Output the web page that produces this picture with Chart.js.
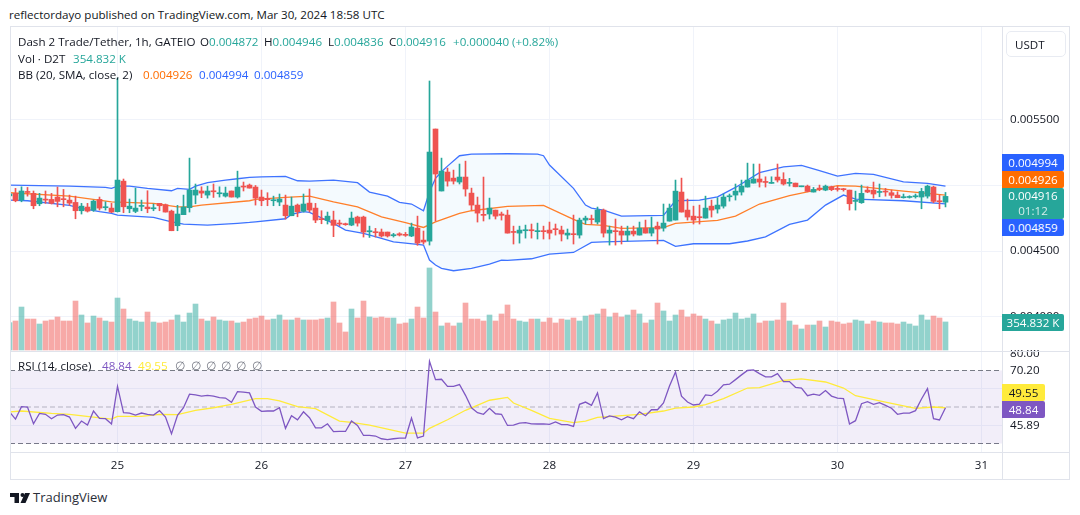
<!DOCTYPE html>
<html>
<head>
<meta charset="utf-8">
<title>Dash 2 Trade/Tether</title>
<script src="https://cdn.jsdelivr.net/npm/chart.js@4"></script>
<style>
  html, body { margin: 0; padding: 0; background: #fff; }
  body { width: 1080px; height: 515px; position: relative; overflow: hidden;
         font-family: "Open Sans", sans-serif; font-size: 11.6px; color: #131722; }
  canvas { position: absolute; left: 0; }
  .t { position: absolute; white-space: pre; line-height: 16px; }
  .line { position: absolute; background: #e0e3eb; }
  .tag { position: absolute; left: 1002px; width: 62px; height: 17px; line-height: 17px;
         color: #fff; text-align: center; border-radius: 0 2px 2px 0; }
  .g { color: #26a69a; } .o { color: #ff6d00; } .b { color: #2962ff; }
  .p { color: #7e57c2; } .y { color: #ffeb3b; } .m { color: #787b86; }
</style>
</head>
<body>
<canvas id="main" width="1069" height="325" style="top:26px"></canvas>
<canvas id="rsi" width="1069" height="129" style="top:350px"></canvas>

<div class="line" style="left:10px;top:26px;width:1059px;height:1px"></div>
<div class="line" style="left:10px;top:479px;width:1059px;height:1px"></div>
<div class="line" style="left:10px;top:26px;width:1px;height:454px"></div>
<div class="line" style="left:1069px;top:26px;width:1px;height:454px"></div>
<div class="line" style="left:1002px;top:26px;width:1px;height:454px"></div>
<div class="line" style="left:10px;top:351px;width:1059px;height:1px"></div>
<div class="line" style="left:10px;top:452px;width:1059px;height:1px"></div>

<div class="t" style="left:9px;top:7px">reflectordayo published on TradingView.com, Mar 30, 2024 18:58 UTC</div>

<div class="t" style="left:18px;top:34px">Dash 2 Trade/Tether, 1h, GATEIO</div>
<div class="t" style="left:200px;top:34px">O<span class="g">0.004872</span></div>
<div class="t" style="left:264px;top:34px">H<span class="g">0.004946</span></div>
<div class="t" style="left:328px;top:34px">L<span class="g">0.004836</span></div>
<div class="t" style="left:389px;top:34px">C<span class="g">0.004916</span></div>
<div class="t g" style="left:453px;top:34px">+0.000040 (+0.82%)</div>
<div class="t" style="left:18px;top:51px">Vol · D2T</div>
<div class="t g" style="left:73px;top:51px">354.832 K</div>
<div class="t" style="left:18px;top:67px">BB (20, SMA, close, 2)</div>
<div class="t o" style="left:143px;top:67px">0.004926</div>
<div class="t b" style="left:199px;top:67px">0.004994</div>
<div class="t b" style="left:254px;top:67px">0.004859</div>

<div class="t" style="left:18px;top:358px">RSI (14, close)</div>
<div class="t p" style="left:102px;top:358px">48.84</div>
<div class="t y" style="left:138px;top:358px">49.55</div>
<div class="t m" style="left:175px;top:358px">∅</div>
<div class="t m" style="left:191px;top:358px">∅</div>
<div class="t m" style="left:206px;top:358px">∅</div>
<div class="t m" style="left:221px;top:358px">∅</div>
<div class="t m" style="left:236px;top:358px">∅</div>
<div class="t m" style="left:252px;top:358px">∅</div>

<div style="position:absolute;left:1006px;top:31px;width:58px;height:24px;border:1px solid #e8ebf2;border-radius:5px"></div>
<div class="t" style="left:1015px;top:37px">USDT</div>

<div class="tag" style="top:154px;background:#2962ff">0.004994</div>
<div class="tag" style="top:171px;background:#ff6d00">0.004926</div>
<div class="tag" style="top:188px;height:31px;background:#26a69a;line-height:15px">0.004916<br><span style="opacity:.8">01:12</span></div>
<div class="tag" style="top:219px;background:#2962ff">0.004859</div>
<div class="tag" style="top:314px;background:#26a69a">354.832 K</div>
<div class="tag" style="top:384px;width:43px;background:#ffeb3b;color:#131722">49.55</div>
<div class="tag" style="top:401px;width:43px;background:#7e57c2">48.84</div>

<svg style="position:absolute;left:10px;top:493px" width="20" height="10" viewBox="0 0 20 10" fill="#131722">
  <path d="M0 0h9v10H4.5V4H0z"/><circle cx="12.5" cy="2" r="2"/><path d="M15 0h5l-4.5 10H10.5z"/>
</svg>
<div class="t" style="left:33px;top:489px;font-size:13px;color:#2a2e39">TradingView</div>

<script>
// prices are in 1e-6 USDT, one entry per hour starting Mar 24 06:00
const opens = [4920,4939,4888,4951,4939,4860,4893,4893,4911,4896,4888,4870,4807,4835,4812,4893,4830,4827,4800,5032,
  4822,4802,4840,4835,4822,4863,4853,4804,4693,4777,4830,4926,4957,4926,4957,4936,4918,4957,4911,4992,
  5002,4987,4911,4901,4883,4873,4850,4769,4850,4804,4865,4827,4744,4733,4736,4713,4708,4698,4759,4759,
  4647,4645,4645,4645,4617,4632,4627,4615,4675,4584,4576,5428,4957,5101,5055,5025,5063,4941,4850,4774,
  4782,4812,4782,4774,4645,4637,4655,4660,4648,4652,4660,4668,4660,4622,4630,4622,4736,4744,4721,4812,
  4637,4652,4652,4622,4652,4622,4675,4637,4690,4675,4728,4736,4949,4812,4766,4759,4751,4842,4820,4842,
  4913,4926,4949,4987,5017,5048,5027,5015,5063,5045,5015,5017,4989,4994,4949,4979,4964,4989,4974,4972,
  4964,4878,4868,4964,4964,4946,4954,4944,4926,4906,4908,4913,4911,4918,4987,4880,4872];
const highs = [4960,4977,4989,4984,4957,4939,4957,4939,4987,4969,4926,4918,4863,4863,4888,4911,4875,4863,5815,5048,
  4896,4979,4888,4959,4858,4863,4858,4812,4848,4926,5207,5010,4989,4994,5010,4989,4987,4957,5108,5025,
  5010,4999,4964,4944,4918,4934,4926,4911,4858,4934,4972,4863,4807,4797,4804,4736,4713,4797,4766,4766,
  4690,4673,4668,4645,4635,4640,4642,4713,4766,4653,5793,5428,5207,5131,5116,5162,5184,4979,4911,5063,
  4903,4812,4797,4812,4690,4690,4698,4706,4713,4690,4721,4706,4690,4668,4774,4751,4766,4774,4835,4820,
  4690,4744,4690,4690,4690,4721,4736,4759,4721,4858,4858,5040,5055,4896,4842,4850,4918,4888,4906,4934,
  4934,5010,5040,5169,5162,5162,5065,5065,5162,5096,5053,5017,4994,5002,4984,5002,5002,4994,4994,4977,
  4964,4956,5002,4989,5025,5010,4977,4964,4951,4934,4921,4934,4977,5002,4994,4928,4946];
const lows = [4895,4875,4875,4918,4822,4845,4863,4858,4837,4837,4848,4746,4782,4797,4802,4812,4812,4792,4797,4792,
  4792,4792,4807,4792,4807,4807,4797,4655,4655,4777,4797,4860,4906,4903,4908,4911,4911,4911,4903,4957,
  4979,4850,4845,4845,4845,4845,4744,4769,4761,4797,4797,4716,4708,4706,4610,4693,4696,4693,4690,4607,
  4604,4607,4607,4607,4607,4615,4612,4610,4544,4554,4546,4729,4957,4994,5010,5010,4918,4812,4721,4729,
  4744,4744,4736,4637,4554,4561,4599,4599,4592,4592,4592,4622,4577,4592,4554,4599,4706,4706,4706,4607,
  4546,4546,4554,4577,4615,4622,4637,4615,4554,4652,4728,4736,4797,4736,4706,4706,4751,4759,4789,4827,
  4880,4888,4926,4987,5017,4987,4987,5015,5025,5002,4994,4989,4989,4951,4949,4959,4959,4959,4956,4956,
  4812,4812,4863,4944,4903,4913,4918,4903,4906,4903,4903,4903,4822,4903,4868,4822,4836];
const closes = [4935,4883,4957,4946,4845,4903,4888,4863,4878,4891,4865,4807,4842,4804,4880,4827,4835,4797,5040,4837,
  4842,4827,4845,4822,4827,4845,4797,4655,4782,4835,4964,4964,4941,4957,4951,4941,4941,4911,4987,4987,
  4979,4903,4883,4891,4888,4896,4769,4842,4799,4858,4812,4736,4739,4766,4696,4706,4701,4751,4713,4645,
  4655,4640,4615,4615,4625,4622,4620,4683,4561,4569,5253,5086,5108,5032,5032,5063,4972,4850,4789,4772,
  4827,4766,4772,4637,4642,4660,4660,4655,4652,4648,4637,4663,4630,4637,4625,4736,4751,4739,4812,4637,
  4660,4648,4622,4652,4630,4675,4637,4675,4668,4713,4827,4956,4797,4759,4736,4754,4827,4812,4850,4911,
  4918,4956,4994,5040,5048,5025,5022,5020,5040,5010,5020,4989,4994,4954,4969,4969,4994,4967,4969,4967,
  4860,4883,4939,4949,4934,4951,4949,4924,4906,4911,4911,4918,4954,4994,4878,4875,4916];
// volume in thousands of D2T
const volumes = [346,367,544,392,392,329,367,380,418,367,367,620,443,342,430,405,367,354,658,519,
  392,367,354,481,354,342,354,380,443,354,468,582,392,367,418,380,367,367,342,354,
  392,405,430,380,392,443,380,380,405,380,380,380,392,405,608,342,228,519,405,620,
  418,405,418,405,405,329,342,392,544,405,1039,481,304,342,304,342,595,392,392,367,
  443,367,456,570,392,367,354,392,392,354,405,342,392,380,405,367,430,443,456,519,
  418,468,418,443,506,456,342,380,595,494,367,443,506,418,456,430,392,367,329,380,
  392,468,392,405,456,342,367,367,380,595,367,316,266,316,316,367,291,367,354,329,
  342,380,367,329,367,354,342,342,329,354,329,304,443,380,430,405,354.832];
const rsiValues = [47.3,43.4,50.2,50,40.8,46.5,46,43.6,45.6,45.8,44.5,38.3,42.3,40.1,47.8,43.8,43.6,40.7,61.3,46.9,
  46.7,45.6,46.7,46,45.6,48,44.5,35.3,45.4,49.6,57,56.6,56,56.4,56,55.1,54.9,52.6,58.4,58.2,
  57.7,50,47.6,47.8,47.8,49.6,38.3,45.2,43,47.4,44.1,38.6,38.6,40.8,36.5,36.6,36.6,42.3,39.9,34.4,
  34.4,34.1,32.6,32.1,32.6,33,33,44,33.1,34.1,75.1,65,65.2,61.3,61.3,62.3,56.4,49.6,46.9,46,
  49.3,46.3,46,39.9,40.1,41.2,41.4,40.8,40.7,40.8,40.5,41.8,40.3,40.3,39.4,51.5,52.7,50.9,57.7,43.6,
  45.1,44.5,43,44.7,43.6,47.3,45.2,48.5,48.5,52.2,61.5,69.2,55.9,52.7,51.1,51.6,56.6,56.2,58.6,62.1,
  62.5,65,67.6,70,70.3,68.3,66.5,66.5,68.3,63.9,63.9,60.8,60.3,56.2,57,56.4,59,56,54.9,54.6,
  40.7,42.5,51.8,52.9,51.5,52.4,50.9,49.3,46,46.7,46.7,48,54.4,60.1,43.6,42.9,49.6];

// indicator curves read at their visible bends: [hour, value]
const bbUpper = [[0,5002],[10,4994],[16,4984],[17,4977],[18,4994],[20,4994],[21,4989],[23,4977],[27,4959],[28,4977],[30,4969],[31,4994],[33,5020],[36,5040],[38,5050],[40,5060],[42,5065],
  [46,5068],[48,5035],[50,5032],[54,5040],[58,5020],[60,4949],[63,4918],[65,4870],[67,4858],[69,4807],[70,4951],[71,5053],[72,5103],[73,5146],[75,5225],[77,5238],[83,5240],
  [88,5238],[89,5225],[90,5154],[94,4977],[96,4850],[97,4827],[99,4812],[102,4766],[109,4771],[111,4883],[115,4888],[118,4913],[121,4984],[125,5096],[129,5141],[132,5151],[135,5111],[138,5070],[141,5091],[144,5083],[149,5027],[153,5015],[156,4994]];
const bbMiddle = [[0,4944],[10,4918],[17,4875],[24,4863],[28,4837],[30,4837],[32,4850],[40,4883],[41,4893],[46,4908],[50,4918],[54,4875],[58,4837],[62,4761],[66,4716],[69,4680],[71,4723],[75,4787],[77,4807],[83,4840],
  [89,4848],[94,4741],[96,4703],[99,4696],[102,4673],[109,4678],[111,4711],[118,4733],[121,4766],[125,4858],[130,4921],[135,4969],[138,4997],[141,4994],[149,4956],[156,4926]];
const bbLower = [[0,4888],[3,4883],[10,4848],[12,4825],[15,4800],[17,4787],[18,4774],[24,4756],[27,4723],[29,4706],[33,4698],[38,4711],[40,4718],[41,4723],[46,4746],[47,4779],[49,4800],[50,4794],[54,4711],[56,4660],[59,4635],[62,4597],[64,4571],[68,4551],[69,4546],[70,4432],[71,4394],[72,4369],[74,4351],[77,4369],[80,4402],[82,4432],[83,4430],
  [87,4442],[90,4478],[94,4490],[97,4566],[99,4571],[109,4582],[111,4536],[114,4556],[120,4556],[123,4577],[126,4609],[130,4703],[133,4736],[136,4850],[139,4926],[141,4896],[149,4883],[156,4859]];
const rsiMa = [[0,47.3],[2,47.8],[7,46.5],[10,46],[14,44.5],[17,43.4],[18,44.9],[22,44.9],[25,46],[28,45.8],[31,48.2],[34,49.6],[37,51.5],[41,54.6],[43,54.6],[45,53.3],[48,50.2],[51,49.1],[55,42.3],[57,41.6],[60,40.1],[63,37.9],[66,35.7],[69,35.7],[70,38.3],[73,43],[76,48.2],[80,53.7],[83,55.3],[84,52.2],[87,48.2],[90,43.8],[94,41.4],[96,42.3],[98,44.3],[105,46],[109,47.8],[111,49.4],[114,50],[116,51.3],[119,54.6],[123,60.4],[125,60.6],[129,64.6],[132,65.4],[136,63.7],[139,60.4],[141,56.2],[145,53.3],[148,51.3],[151,49.3],[154,50],[156,49.6]];

const dayHours = [18, 42, 66, 90, 114, 138, 162];
const dayLabels = ["25", "26", "27", "28", "29", "30", "31"];
const priceTicks = [5500, 5000, 4500, 4000];
const rsiTicks = [79.4, 70, 60, 50, 40, 30];
const rsiTickLabels = ["80.00", "70.20", "", "", "45.89", ""];
const rsiGridLevels = [60, 40];

const hours = opens.map((_, i) => i);
const UP = "#26a69a", DOWN = "#ef5350";
const UP_VOL = "rgba(38,166,154,0.5)", DOWN_VOL = "rgba(239,83,80,0.5)";
const GRID = "#f0f3fa";
const BB_BLUE = "#3f73ff";
const FONT = { family: "'Open Sans', sans-serif", size: 11.6 };
const candleColors = hours.map(i => closes[i] >= opens[i] ? UP : DOWN);
const volumeColors = hours.map(i => closes[i] >= opens[i] ? UP_VOL : DOWN_VOL);
const pts = list => list.map(p => ({ x: p[0], y: p[1] }));

// plain x scale: 6px per hour, ticks only at day starts
const xScale = showLabels => ({
  type: "linear",
  offset: false,
  min: 0.0833,
  max: 165.417,
  afterBuildTicks: s => { s.ticks = dayHours.map(v => ({ value: v })); },
  afterFit: s => {
    s.paddingLeft = 0; s.paddingRight = 0;
    s.height = showLabels ? 26.5 : 0;
  },
  grid: { color: GRID, drawTicks: false, offset: false },
  border: { display: false },
  ticks: {
    display: showLabels,
    autoSkip: false,
    maxRotation: 0,
    padding: 6,
    color: "#131722",
    font: FONT,
    callback: (v, i) => dayLabels[i]
  }
});

const yFit = s => { s.width = 67; s.paddingTop = 0; s.paddingBottom = 0; };

new Chart(document.getElementById("main"), {
  type: "bar",
  data: {
    datasets: [
      { label: "Volume", yAxisID: "yVol", order: 6, grouped: false, barThickness: 5,
        backgroundColor: volumeColors,
        data: hours.map(i => ({ x: i, y: volumes[i] })) },
      { type: "line", label: "BB upper", order: 5, borderColor: BB_BLUE, borderWidth: 1.3, pointRadius: 0,
        fill: { target: 2 }, backgroundColor: "rgba(33,150,243,0.05)",
        data: pts(bbUpper) },
      { type: "line", label: "BB lower", order: 5, borderColor: BB_BLUE, borderWidth: 1.3, pointRadius: 0,
        fill: false, data: pts(bbLower) },
      { type: "line", label: "BB basis", order: 4, borderColor: "#ff7f2a", borderWidth: 1.3, pointRadius: 0,
        fill: false, data: pts(bbMiddle) },
      { label: "Wicks", order: 2, grouped: false, barThickness: 1,
        backgroundColor: candleColors,
        data: hours.map(i => ({ x: i, y: [lows[i], highs[i]] })) },
      { label: "Bodies", order: 1, grouped: false, barThickness: 5, minBarLength: 1,
        backgroundColor: candleColors,
        data: hours.map(i => ({ x: i, y: [opens[i], closes[i]] })) }
    ]
  },
  options: {
    responsive: false,
    animation: false,
    layout: { padding: { left: 10, right: 0, top: 0, bottom: 0 } },
    plugins: { legend: { display: false }, tooltip: { enabled: false } },
    scales: {
      x: xScale(false),
      y: {
        position: "right",
        min: 3741,
        max: 6211,
        afterBuildTicks: s => { s.ticks = priceTicks.map(v => ({ value: v })); },
        afterFit: yFit,
        grid: { color: GRID, drawTicks: false },
        border: { display: false },
        ticks: { padding: 8, color: "#131722", font: FONT, callback: v => (v / 1e6).toFixed(6) }
      },
      yVol: { display: false, min: -13, max: 4105 }
    }
  }
});

new Chart(document.getElementById("rsi"), {
  type: "line",
  data: {
    datasets: [
      { label: "Upper band", order: 5, borderColor: "#787b86", borderWidth: 1, borderDash: [5, 3], pointRadius: 0,
        fill: { target: 1 }, backgroundColor: "rgba(126,87,194,0.1)",
        data: [{ x: 0.0833, y: 70 }, { x: 165.417, y: 70 }] },
      { label: "Lower band", order: 5, borderColor: "#787b86", borderWidth: 1, borderDash: [5, 3], pointRadius: 0,
        fill: false, data: [{ x: 0.0833, y: 30 }, { x: 165.417, y: 30 }] },
      { label: "Middle band", order: 5, borderColor: "rgba(120,123,134,0.5)", borderWidth: 1, borderDash: [5, 3], pointRadius: 0,
        fill: false, data: [{ x: 0.0833, y: 50 }, { x: 165.417, y: 50 }] },
      { label: "RSI MA", order: 2, borderColor: "#ffeb3b", borderWidth: 1.3, pointRadius: 0, fill: false,
        data: pts(rsiMa) },
      { label: "RSI", order: 1, borderColor: "#7e57c2", borderWidth: 1.3, pointRadius: 0, fill: false,
        data: hours.map(i => ({ x: i, y: rsiValues[i] })) }
    ]
  },
  options: {
    responsive: false,
    animation: false,
    layout: { padding: { left: 10, right: 0, top: 2, bottom: 0 } },
    plugins: { legend: { display: false }, tooltip: { enabled: false } },
    scales: {
      x: xScale(true),
      y: {
        position: "right",
        min: 25.07,
        max: 80.14,
        afterBuildTicks: s => { s.ticks = rsiTicks.map(v => ({ value: v })); },
        afterFit: yFit,
        grid: { color: c => rsiGridLevels.includes(c.tick.value) ? GRID : "transparent", drawTicks: false },
        border: { display: false },
        ticks: { padding: 8, color: "#131722", font: FONT,
          callback: (v, i) => rsiTickLabels[i] }
      }
    }
  }
});
</script>
</body>
</html>
